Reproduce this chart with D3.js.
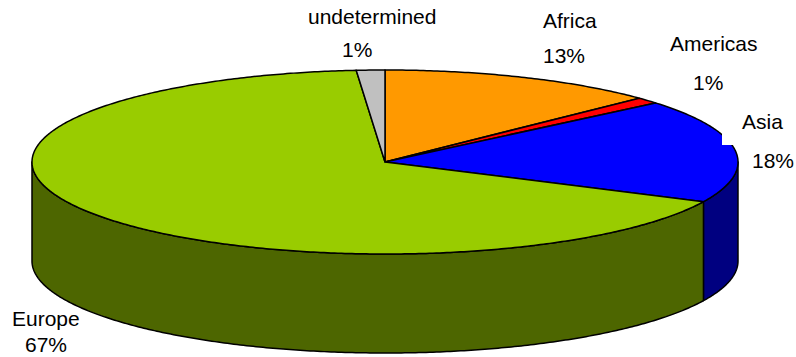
<!DOCTYPE html>
<html>
<head>
<meta charset="utf-8">
<script src="https://cdn.jsdelivr.net/npm/d3@7/dist/d3.min.js"></script>
<style>
  html, body { margin: 0; padding: 0; background: #fff; }
  svg { display: block; }
  text { font-family: "Liberation Sans", Arial, sans-serif; font-size: 21px; fill: #000; }
</style>
</head>
<body>
<svg id="chart" width="796" height="357"></svg>
<script>
// ---- data ----
const categories = ["Africa", "Americas", "Asia", "Europe", "undetermined"];
const values = [12.8, 1.1, 18.2, 66.6, 1.3];
const topColors = ["#FF9900", "#FF0000", "#0000FF", "#99CC00", "#C0C0C0"];
const sideColors = ["#804D00", "#800000", "#000080", "#4D6600", "#606060"];

// ---- layout ----
const W = 796, H = 357;
const cx = 385, cy = 162, rx = 353, ry = 92, depth = 99;
// label anchor positions (left x, baseline of name line, baseline of percent line)
const labelLayout = [
  { x1: 543, y1: 28, x2: 543, y2: 63 },
  { x1: 670, y1: 51, x2: 693, y2: 90 },
  { x1: 742, y1: 129, x2: 752, y2: 168 },
  { x1: 12, y1: 326, x2: 25, y2: 352 },
  { x1: 308, y1: 24, x2: 342, y2: 57 }
];

const svg = d3.select("#chart");
const total = d3.sum(values);
const data = categories.map((c, i) => ({ name: c, value: values[i], i }));
const pie = d3.pie().sort(null).value(d => d.value);
const arcs = pie(data);

const ex = a => cx + rx * Math.sin(a);
const ey = (a, dz = 0) => cy - ry * Math.cos(a) + dz;

function arcPoints(a0, a1, dz) {
  const n = Math.max(2, Math.ceil(Math.abs(a1 - a0) / 0.01));
  const pts = [];
  for (let k = 0; k <= n; k++) {
    const a = a0 + (a1 - a0) * k / n;
    pts.push([ex(a), ey(a, dz)]);
  }
  return pts;
}
const line = d3.line();

const gSide = svg.append("g");
const gTop = svg.append("g");

// side walls (front visible part: angles between PI/2 and 3PI/2)
arcs.forEach(d => {
  const a0 = Math.max(d.startAngle, Math.PI / 2);
  const a1 = Math.min(d.endAngle, 3 * Math.PI / 2);
  if (a1 <= a0) return;
  const topPts = arcPoints(a0, a1, 0);
  const botPts = arcPoints(a1, a0, depth);
  gSide.append("path")
    .attr("d", line(topPts.concat(botPts)) + "Z")
    .attr("fill", sideColors[d.data.i])
    .attr("stroke", "#000")
    .attr("stroke-width", 1.5)
    .attr("stroke-linejoin", "round");
});

// top faces
arcs.forEach(d => {
  const pts = [[cx, cy]].concat(arcPoints(d.startAngle, d.endAngle, 0));
  gTop.append("path")
    .attr("d", line(pts) + "Z")
    .attr("fill", topColors[d.data.i])
    .attr("stroke", "#000")
    .attr("stroke-width", 1.5)
    .attr("stroke-linejoin", "round");
});

// label background (Asia label box overlaps the pie edge)
svg.append("rect").attr("x", 722).attr("y", 105).attr("width", 74).attr("height", 40).attr("fill", "#fff");

// labels
const gLab = svg.append("g");
arcs.forEach(d => {
  const L = labelLayout[d.data.i];
  const pct = Math.round(d.data.value / total * 100) + "%";
  gLab.append("text").attr("x", L.x1).attr("y", L.y1).text(d.data.name);
  gLab.append("text").attr("x", L.x2).attr("y", L.y2).text(pct);
});
</script>
</body>
</html>
